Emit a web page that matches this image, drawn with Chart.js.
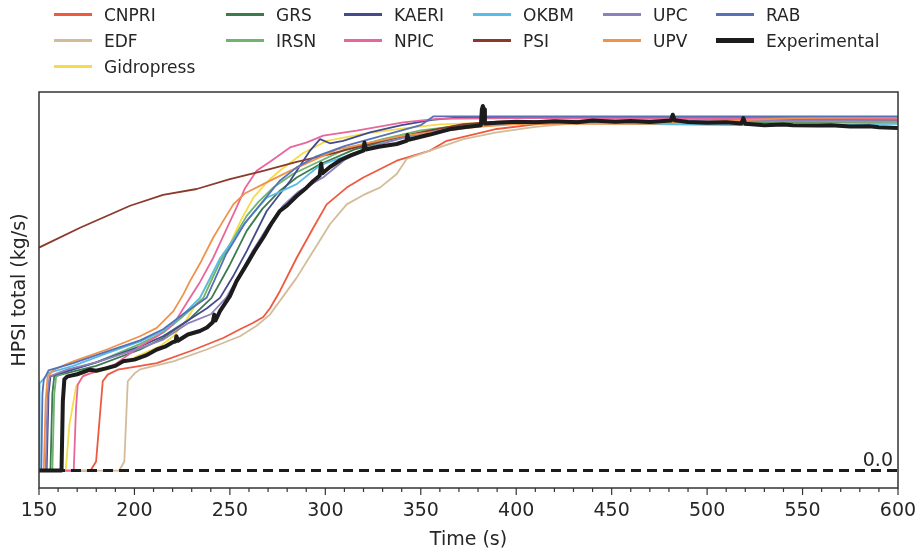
<!DOCTYPE html>
<html>
<head>
<meta charset="utf-8">
<script src="https://cdn.jsdelivr.net/npm/chart.js@4.4.1/dist/chart.umd.min.js"></script>
<style>
  html, body { margin: 0; padding: 0; background: #fff; }
  #wrap { position: relative; width: 921px; height: 554px; }
  #legend { position: absolute; left: 0; top: 0; width: 921px; height: 80px; font-family: "DejaVu Sans", sans-serif; font-size: 17px; color: #262626; }
  .item { position: absolute; height: 20px; line-height: 20px; white-space: nowrap; }
  .item span.sw { position: absolute; left: 0; top: 8px; width: 38px; height: 3px; }
  .item span.tx { position: absolute; left: 50px; top: 0; }
</style>
</head>
<body>
<div id="wrap">
  <canvas id="chart"></canvas>
  <div id="legend"></div>
</div>
<script>
// time (s), HPSI total (normalised)
let CNPRI = [[150,0],[177,0],[179.9,0.026],[183.4,0.256],[186,0.275],[191.2,0.289],[200,0.297],[211.7,0.308],[229.1,0.342],[246.5,0.38],[255.3,0.405],[262,0.423],[267.5,0.44],[271,0.465],[276.2,0.514],[285,0.61],[293.7,0.696],[300.7,0.763],[311.2,0.811],[319.9,0.84],[337.4,0.888],[354.8,0.917],[363.6,0.945],[389.8,0.979],[410,0.992],[430,0.998],[600,1.004]];
let EDF = [[150,0],[192,0],[194.7,0.026],[196.5,0.256],[200,0.278],[202.9,0.29],[220.4,0.313],[237.8,0.347],[255.3,0.385],[264,0.415],[271,0.447],[278,0.5],[285,0.553],[293.7,0.629],[302.4,0.706],[311.2,0.763],[320,0.79],[328.6,0.811],[337.4,0.85],[342.6,0.893],[354.8,0.917],[372.3,0.95],[389.8,0.969],[410,0.985],[430,0.995],[600,1.0]];
let Gidropress = [[150,0],[164,0],[165.9,0.13],[169.4,0.24],[173.7,0.275],[185.5,0.289],[203,0.332],[213,0.355],[220.4,0.385],[227,0.43],[234.3,0.495],[241,0.56],[250,0.649],[256,0.72],[262.3,0.782],[270,0.83],[276.2,0.86],[288.4,0.91],[300.7,0.945],[320,0.965],[340,0.98],[360,0.992],[400,1.0],[600,1.003]];
let GRS = [[150,0],[156,0],[157,0.22],[158,0.27],[165,0.28],[180,0.3],[203,0.347],[215,0.38],[228,0.43],[240.4,0.495],[250,0.59],[258.8,0.687],[267,0.75],[276.2,0.802],[285,0.84],[297.2,0.878],[315,0.92],[335,0.95],[360,0.98],[400,0.997],[600,1.0]];
let IRSN = [[150,0],[157,0],[158,0.22],[159,0.27],[165,0.285],[180,0.31],[203,0.363],[215,0.395],[225,0.44],[236.1,0.495],[245,0.6],[258.8,0.73],[265,0.77],[272.7,0.811],[283,0.85],[293.7,0.878],[310,0.92],[330,0.95],[350,0.975],[380,0.995],[400,1.0],[600,1.001]];
let KAERI = [[150,0],[154,0],[155,0.22],[156,0.27],[165,0.285],[180,0.31],[203,0.356],[215,0.385],[228,0.43],[238,0.465],[244.8,0.495],[252,0.56],[258.8,0.629],[269.3,0.744],[281.5,0.83],[292,0.917],[297.2,0.95],[302.4,0.938],[309.3,0.945],[323.4,0.969],[340,0.99],[356,1.005],[370,1.012],[600,1.012]];
let NPIC = [[150,0],[168.2,0],[169.4,0.18],[170.3,0.246],[172.9,0.27],[180,0.285],[190,0.305],[203,0.356],[212,0.385],[220.4,0.419],[229.1,0.495],[234.3,0.54],[241.3,0.61],[253.5,0.754],[258,0.81],[264,0.859],[271,0.885],[281.5,0.926],[290,0.94],[298.9,0.96],[316.4,0.974],[340.8,0.998],[358.3,1.008],[400,1.01],[600,1.01]];
let OKBM = [[150,0],[150.3,0.25],[152,0.26],[155,0.28],[168,0.3],[185,0.335],[203,0.37],[215,0.4],[225,0.445],[234.3,0.495],[245,0.61],[258.8,0.716],[269.3,0.782],[285,0.821],[297.2,0.875],[310,0.9],[330,0.94],[350,0.965],[380,0.99],[420,0.998],[470,0.993],[515,0.99],[600,0.994]];
let PSI = [[150,0.639],[171.5,0.696],[197.7,0.759],[215,0.79],[232.6,0.807],[250,0.835],[267.5,0.859],[285,0.885],[302.4,0.907],[320,0.932],[337.4,0.955],[355,0.975],[372.3,0.993],[390,1.0],[420,1.003],[600,1.005]];
let UPC = [[150,0],[153.5,0],[154.5,0.22],[155.5,0.27],[165,0.29],[180,0.31],[203,0.351],[215,0.375],[228,0.422],[240,0.448],[248,0.495],[255,0.56],[262,0.63],[270,0.7],[278,0.76],[286,0.8],[298.8,0.84],[310,0.89],[325,0.93],[345,0.96],[370,0.985],[400,1.0],[600,1.005]];
let UPV = [[150,0],[152.5,0],[153.5,0.2],[154.5,0.27],[158,0.29],[168,0.313],[185.5,0.347],[202.9,0.385],[211.7,0.409],[220.4,0.457],[225.6,0.505],[229.1,0.543],[235,0.6],[241.3,0.668],[247,0.72],[251.8,0.763],[258,0.795],[267.5,0.821],[281.5,0.859],[306,0.92],[340.8,0.96],[380,0.985],[400,0.993],[420,0.994],[470,0.994],[500,1.0],[545,1.01],[600,1.012]];
let RAB = [[150,0],[151.2,0],[151.8,0.22],[152.5,0.26],[155,0.287],[168,0.308],[185,0.34],[203,0.373],[215,0.405],[226,0.45],[237.8,0.495],[248,0.62],[258,0.71],[267.5,0.773],[276,0.83],[285,0.869],[295,0.9],[310,0.93],[330,0.96],[350,0.99],[356.5,1.015],[600,1.015]];
let Experimental = [[150,0],[161.8,0],[162.5,0.2],[163.3,0.262],[165,0.27],[170,0.276],[176.7,0.289],[180,0.286],[185,0.293],[190,0.3],[194,0.313],[200,0.318],[206,0.33],[211.7,0.347],[216,0.355],[220,0.368],[221.5,0.37],[222,0.385],[222.8,0.372],[228,0.39],[234.3,0.4],[238,0.41],[241,0.425],[241.8,0.447],[242.5,0.43],[244.8,0.457],[250,0.5],[253.5,0.543],[258.8,0.591],[263,0.63],[267.5,0.668],[272,0.71],[276.2,0.744],[280,0.76],[285,0.787],[290,0.81],[293.7,0.83],[297,0.845],[297.8,0.88],[298.5,0.852],[302.4,0.87],[308,0.89],[314,0.905],[319.9,0.917],[320.5,0.94],[321.2,0.92],[328,0.928],[337.4,0.936],[342.5,0.945],[343,0.962],[343.6,0.948],[354.8,0.963],[365,0.978],[372.3,0.984],[381.5,0.99],[382,1.035],[382.5,1.045],[383.2,1.035],[383.6,0.995],[389.8,0.997],[400,1.0],[410,0.998],[420,1.001],[432,0.998],[440,1.003],[452,1.0],[460,1.002],[470,0.999],[481,1.003],[482,1.02],[483,1.004],[490,0.999],[500,0.997],[510,0.998],[518,0.995],[519,1.01],[520,0.994],[530,0.99],[540,0.992],[545,0.99],[558,0.989],[565,0.99],[575,0.986],[585,0.987],[590,0.984],[600,0.982]];

let zeroLine = [[150,0],[600,0]];
let xTicks = [150, 200, 250, 300, 350, 400, 450, 500, 550, 600];

let seriesNames = ["CNPRI", "EDF", "Gidropress", "GRS", "IRSN", "KAERI", "NPIC", "OKBM", "PSI", "UPC", "UPV", "RAB", "Experimental"];
let seriesData = [CNPRI, EDF, Gidropress, GRS, IRSN, KAERI, NPIC, OKBM, PSI, UPC, UPV, RAB, Experimental];
let seriesColors = ["#ee5a3f", "#d4bc9a", "#f5dc4a", "#3e7b4c", "#6db56e", "#454a8e", "#e8669c", "#57bde6", "#8a3a2b", "#8e80ba", "#f0924a", "#5671b8", "#1c1c1c"];

// legend, column-major like the reference
let legendCols = [54, 226, 344, 473, 603, 716];
let legendRows = [5, 31, 57];
let legendSlots = [[0,0],[0,1],[0,2],[1,0],[1,1],[2,0],[2,1],[3,0],[3,1],[4,0],[4,1],[5,0],[5,1]];

let legendDiv = document.getElementById("legend");
seriesNames.forEach((name, i) => {
    let it = document.createElement("div");
    it.className = "item";
    it.style.left = legendCols[legendSlots[i][0]] + "px";
    it.style.top = legendRows[legendSlots[i][1]] + "px";
    let sw = document.createElement("span");
    sw.className = "sw";
    sw.style.background = seriesColors[i];
    if (name == "Experimental") { sw.style.height = "5px"; sw.style.top = "7px"; }
    let tx = document.createElement("span");
    tx.className = "tx";
    tx.textContent = name;
    it.appendChild(sw);
    it.appendChild(tx);
    legendDiv.appendChild(it);
});

let datasets = seriesNames.map((name, i) => ({
    label: name,
    data: seriesData[i].map(p => ({ x: p[0], y: p[1] })),
    borderColor: seriesColors[i],
    borderWidth: name == "Experimental" ? 4 : 1.8,
    order: name == "Experimental" ? 1 : 2 + (seriesNames.length - i),
}));

datasets.push({
    label: "zero",
    data: zeroLine.map(p => ({ x: p[0], y: p[1] })),
    borderColor: "#1c1c1c",
    borderWidth: 3,
    borderDash: [10, 6],
    order: 0,
});

// frame, tick marks and the 0.0 label
let framePlugin = {
    id: "frame",
    afterDatasetsDraw(chart) {
        let ctx = chart.ctx;
        let a = chart.chartArea;
        let xs = chart.scales.x;
        let ys = chart.scales.y;
        ctx.save();
        ctx.strokeStyle = "#333";
        ctx.lineWidth = 1.5;
        ctx.strokeRect(a.left, a.top, a.right - a.left, a.bottom - a.top);
        ctx.lineWidth = 1.2;
        for (let v = 150; v <= 600; v += 10) {
            let px = xs.getPixelForValue(v);
            let len = xTicks.includes(v) ? 7 : 4;
            ctx.beginPath();
            ctx.moveTo(px, a.bottom);
            ctx.lineTo(px, a.bottom + len);
            ctx.stroke();
        }
        ctx.fillStyle = "#262626";
        ctx.font = "19px 'DejaVu Sans'";
        ctx.textAlign = "right";
        ctx.textBaseline = "alphabetic";
        ctx.fillText("0.0", a.right - 5, ys.getPixelForValue(0) - 5);
        ctx.restore();
    }
};

Chart.defaults.font.family = "'DejaVu Sans', sans-serif";
Chart.defaults.color = "#262626";

new Chart(document.getElementById("chart"), {
    type: "scatter",
    data: { datasets: datasets },
    plugins: [framePlugin],
    options: {
        responsive: true,
        maintainAspectRatio: false,
        animation: false,
        showLine: true,
        elements: {
            point: { radius: 0, hoverRadius: 0 },
            line: { tension: 0, fill: false, borderJoinStyle: "round" },
        },
        layout: { padding: { left: 9, right: 23, top: 92, bottom: 0 } },
        scales: {
            x: {
                type: "linear",
                min: 150,
                max: 600,
                afterFit: (s) => { s.height = 66; s.paddingLeft = 0; s.paddingRight = 0; },
                afterBuildTicks: (s) => { s.ticks = xTicks.map(v => ({ value: v })); },
                grid: { display: false, drawTicks: false },
                border: { display: false },
                ticks: { padding: 12, font: { size: 19 }, color: "#262626" },
                title: { display: true, text: "Time (s)", font: { size: 19 }, padding: { top: 0, bottom: 3 }, color: "#262626" },
            },
            y: {
                type: "linear",
                min: -0.05,
                max: 1.085,
                afterFit: (s) => { s.width = 30; },
                grid: { display: false, drawTicks: false },
                border: { display: false },
                ticks: { display: false },
                title: { display: true, text: "HPSI total (kg/s)", font: { size: 19 }, padding: 0, color: "#262626" },
            },
        },
        plugins: {
            legend: { display: false },
            tooltip: { enabled: false },
        },
    },
});
</script>
</body>
</html>
